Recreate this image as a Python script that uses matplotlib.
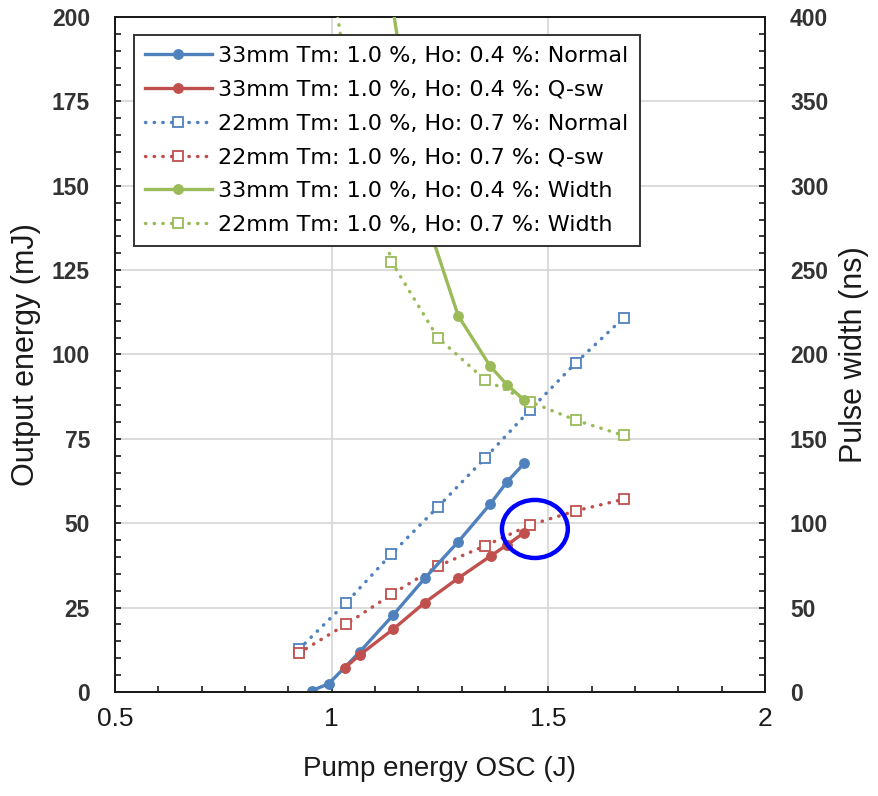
import matplotlib
matplotlib.use("Agg")
import matplotlib.pyplot as plt
from matplotlib.patches import Ellipse
from matplotlib.ticker import MultipleLocator

# ---------------- data ----------------
x33_normal = [0.954, 0.993, 1.065, 1.142, 1.215, 1.292, 1.366, 1.405, 1.444]
e33_normal = [0.4, 2.4, 11.9, 22.8, 33.7, 44.5, 55.7, 62.3, 67.7]

x33_qsw = [1.031, 1.065, 1.142, 1.215, 1.292, 1.367, 1.405, 1.443]
e33_qsw = [7.2, 11.0, 18.6, 26.5, 33.7, 40.3, 43.6, 47.1]

x22 = [0.924, 1.034, 1.138, 1.245, 1.354, 1.458, 1.564, 1.674]
e22_normal = [12.6, 26.5, 40.9, 54.8, 69.3, 83.6, 97.6, 110.9]
e22_qsw = [11.5, 20.1, 28.9, 37.3, 43.3, 49.5, 53.7, 57.1]

x33_width = [1.142, 1.215, 1.292, 1.366, 1.405, 1.444]
w33_width = [404, 283, 223, 193, 182, 173]
w22_width = [560, 365, 255, 210, 185, 172, 161, 152]

labels = [
    "33mm Tm: 1.0 %, Ho: 0.4 %: Normal",
    "33mm Tm: 1.0 %, Ho: 0.4 %: Q-sw",
    "22mm Tm: 1.0 %, Ho: 0.7 %: Normal",
    "22mm Tm: 1.0 %, Ho: 0.7 %: Q-sw",
    "33mm Tm: 1.0 %, Ho: 0.4 %: Width",
    "22mm Tm: 1.0 %, Ho: 0.7 %: Width",
]
xticks = [0.5, 1.0, 1.5, 2.0]
xticklabels = ["0.5", "1", "1.5", "2"]
yticks_left = [0, 25, 50, 75, 100, 125, 150, 175, 200]
yticks_right = [0, 50, 100, 150, 200, 250, 300, 350, 400]
# circled region (annotation)
circle_center = (1.469, 48.3)
circle_size = (0.152, 17.2)

# ---------------- style ----------------
BLUE = "#4F81BD"
RED = "#C0504D"
GREEN = "#9BBB59"
plt.rcParams['font.family'] = ['Liberation Sans', 'DejaVu Sans']

fig = plt.figure(figsize=(8.79, 7.96), dpi=100)
ax = fig.add_axes([0.1308, 0.1307, 0.7395, 0.8479])
ax2 = ax.twinx()

dot = (0, (0.1, 2.4))
lw_solid = 2.4
lw_dot = 2.5

h1, = ax.plot(x33_normal, e33_normal, '-', color=BLUE, lw=lw_solid, marker='o', ms=6.8, mec=BLUE, mfc=BLUE, zorder=5)
h2, = ax.plot(x33_qsw, e33_qsw, '-', color=RED, lw=lw_solid, marker='o', ms=6.8, mec=RED, mfc=RED, zorder=5)
h3, = ax.plot(x22, e22_normal, linestyle=dot, dash_capstyle='round', color=BLUE, lw=lw_dot,
              marker='s', ms=7, mfc='white', mec=BLUE, mew=1.3, zorder=4)
h4, = ax.plot(x22, e22_qsw, linestyle=dot, dash_capstyle='round', color=RED, lw=lw_dot,
              marker='s', ms=7, mfc='white', mec=RED, mew=1.3, zorder=4)
h5, = ax2.plot(x33_width, w33_width, '-', color=GREEN, lw=lw_solid, marker='o', ms=6.8, mec=GREEN, mfc=GREEN, zorder=5)
h6, = ax2.plot(x22, w22_width, linestyle=dot, dash_capstyle='round', color=GREEN, lw=lw_dot,
               marker='s', ms=7, mfc='white', mec=GREEN, mew=1.3, zorder=4)

ax.set_xlim(0.5, 2.0)
ax.set_ylim(0, 200)
ax2.set_ylim(0, 400)

ax.set_xticks(xticks)
ax.set_xticklabels(xticklabels)
ax.xaxis.set_minor_locator(MultipleLocator(0.1))
ax.set_yticks(yticks_left)
ax.yaxis.set_minor_locator(MultipleLocator(5))
ax2.set_yticks(yticks_right)
ax2.yaxis.set_minor_locator(MultipleLocator(10))

ax.grid(True, which='major', color='#d9d9d9', lw=1.3)
ax.set_axisbelow(True)

for a in (ax, ax2):
    for s in a.spines.values():
        s.set_color('#1a1a1a')
        s.set_linewidth(1.4)

ax.tick_params(axis='x', which='both', direction='in', length=4, width=1.2, color='#1a1a1a',
               top=False, pad=11, labelsize=19, labelcolor='#1a1a1a')
ax.tick_params(axis='y', which='both', direction='in', length=4, width=1.2, color='#1a1a1a',
               pad=18, labelsize=16.5, labelcolor='#333333')
ax2.tick_params(axis='y', which='both', direction='in', length=4, width=1.2, color='#1a1a1a',
                pad=18, labelsize=16.5, labelcolor='#333333')
for t in ax.get_yticklabels() + ax2.get_yticklabels():
    t.set_fontweight('bold')

ax.set_xlabel("Pump energy OSC (J)", fontsize=20, labelpad=18, color='#1a1a1a')
ax.set_ylabel("Output energy (mJ)", fontsize=22, labelpad=8, color='#1a1a1a')
ax2.set_ylabel("Pulse width (ns)", fontsize=22, labelpad=8, color='#1a1a1a')

ell = Ellipse(circle_center, circle_size[0], circle_size[1], transform=ax.transData,
              fill=False, ec='#0000FF', lw=3.2, zorder=10)
ax2.add_patch(ell)

leg = ax2.legend([h1, h2, h3, h4, h5, h6], labels, loc='upper left',
                 bbox_to_anchor=(134 / 879, 1 - 35 / 796), bbox_transform=fig.transFigure,
                 borderaxespad=0, handlelength=3.0, handletextpad=0.3,
                 labelspacing=0.62, borderpad=0.5, fancybox=False, framealpha=1,
                 edgecolor='#333333', prop={'family': ['DejaVu Sans'], 'size': 16})
leg.get_frame().set_linewidth(1.4)
leg.set_zorder(20)

fig.savefig("out.png", dpi=100, facecolor='white')
